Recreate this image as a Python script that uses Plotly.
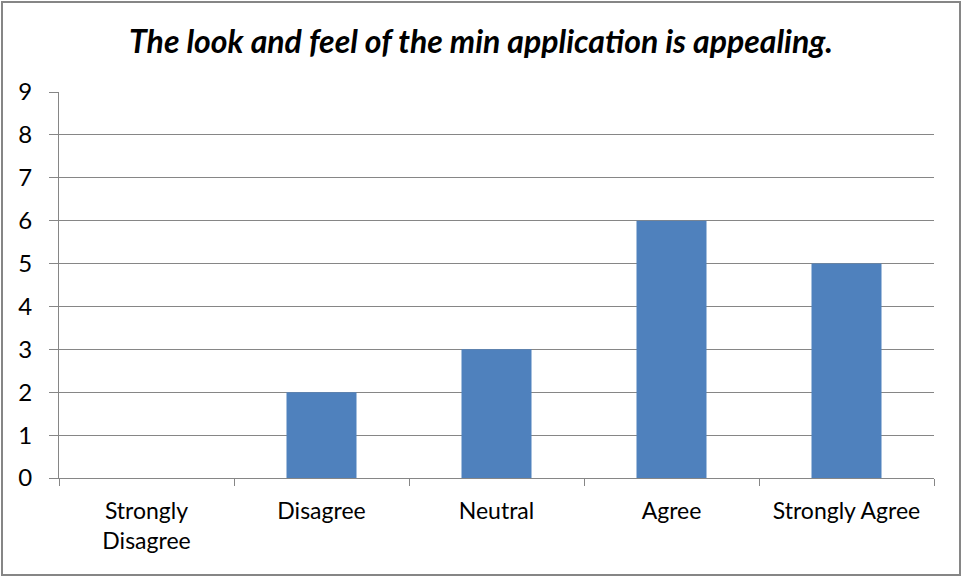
import plotly.graph_objects as go

categories = ["Strongly<br>Disagree", "Disagree", "Neutral", "Agree", "Strongly Agree"]
values = [0, 2, 3, 6, 5]
y_ticks = list(range(0, 10))

W, H = 962, 577
L, R, T, B = 59, 28, 92, 99
pw, ph = W - L - R, H - T - B

fig = go.Figure(go.Bar(x=categories, y=values, marker=dict(color="#4F81BD", line=dict(width=0))))

fig.update_layout(
    width=W, height=H,
    margin=dict(l=L, r=R, t=T, b=B),
    paper_bgcolor="white", plot_bgcolor="white",
    bargap=0.6,
    showlegend=False,
    font=dict(family="Lato, Open Sans, sans-serif", color="#000000", size=24),
    title=dict(text="<b><i>The look and feel of the min application is appealing.</i></b>",
               x=0.5, xanchor="center", y=1 - 42 / H, yanchor="middle",
               font=dict(size=32, family="Lato, Open Sans, sans-serif", color="#000000")),
)
fig.update_xaxes(
    showline=True, linecolor="#868686", linewidth=1,
    ticks="outside", tickson="boundaries", ticklen=7, tickcolor="#868686",
    showgrid=False, tickfont=dict(size=23), fixedrange=True, ticklabelstandoff=12,
)
fig.update_yaxes(
    range=[0, 9], tickvals=y_ticks, showline=True, linecolor="#868686", linewidth=1,
    ticks="outside", ticklen=9, tickcolor="#868686",
    showgrid=True, gridcolor="#868686", gridwidth=1, zeroline=False,
    tickfont=dict(size=24), ticklabelstandoff=12,
)
# outer chart border
fig.add_shape(type="rect", xref="paper", yref="paper",
              x0=(2 - L) / pw, x1=(W - 2 - L) / pw,
              y0=-(H - 2 - T - ph) / ph, y1=1 + (T - 2) / ph,
              line=dict(color="#868686", width=2), fillcolor="rgba(0,0,0,0)", layer="below")
fig.write_html("out.html", config={"displayModeBar": False},
               post_script="document.body.style.margin='0';document.body.style.overflow='hidden';")
